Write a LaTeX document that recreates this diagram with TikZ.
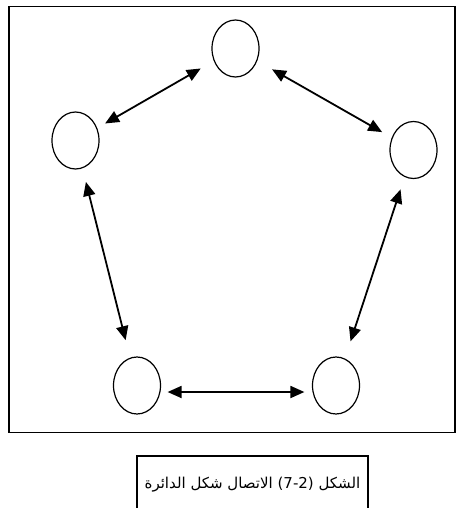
\documentclass[tikz,border=0pt]{standalone}
\usepackage{fontspec}
\newfontfamily\arabicfont[Script=Arabic]{DejaVu Sans}
\TeXXeTstate=1
\usetikzlibrary{shapes.geometric,arrows.meta,positioning}

\begin{document}
\begin{tikzpicture}[x=1pt,y=-1pt,
    st/.style={draw,ellipse,line width=1.2pt,minimum width=47pt,minimum height=57pt,inner sep=0pt},
    arr/.style={line width=1.8pt,{Triangle[length=14pt,width=12pt]}-{Triangle[length=14pt,width=12pt]}}]
  \useasboundingbox (0,0) rectangle (457,508);
  % frame and caption box
  \draw[line width=1.5pt] (9,6.5) rectangle (455,432.5);
  \draw[line width=1.2pt] (137,456) rectangle (368,512);
  \node (cap) at (252.5,485) {\fontsize{15}{17}\selectfont\arabicfont\beginR الشكل \beginL(7-2)\endL{} الاتصال شكل الدائرة\endR};
  % the five stations
  \node[st] (top) at (235.5,48.5) {};
  \node[st] (lft) at (75.5,140.5) {};
  \node[st] (rgt) at (413.5,150) {};
  \node[st] (bl) at (137,385.5) {};
  \node[st] (br) at (336,385.5) {};
  % links
  \draw[arr,shorten <=15pt,shorten >=9pt] (top) -- (lft);
  \draw[arr,shorten <=17pt,shorten >=11pt] (top) -- (rgt);
  \draw[arr,shorten <=14pt,shorten >=18pt] (lft) -- (bl);
  \draw[arr,shorten <=13pt,shorten >=18pt] (rgt) -- (br);
  \draw[arr,shorten <=6.5pt,shorten >=7.5pt] ([yshift=-6.5pt]bl.east) -- ([yshift=-6.5pt]br.west);
\end{tikzpicture}
\end{document}
